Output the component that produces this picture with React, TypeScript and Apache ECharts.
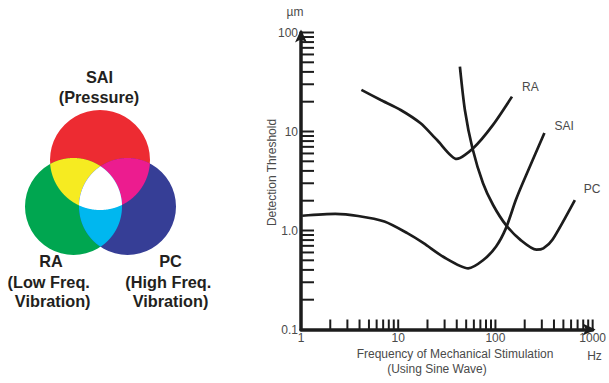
import React, { useEffect, useRef } from "react";
import * as echarts from "echarts";

// Axis tick values (log scale)
const freqMinorTicks = [2, 3, 4, 5, 6, 7, 8, 9, 10, 20, 30, 40, 50, 60, 70, 80, 90, 100, 200, 300, 400, 500, 600, 700, 800, 900, 1000];
const thresholdMinorTicks = [0.2, 0.3, 0.4, 0.5, 0.6, 0.7, 0.8, 0.9, 1, 2, 3, 4, 5, 6, 7, 8, 9, 10, 20, 30, 40, 50, 60, 70, 80, 90, 100];
const yTickValues = [0.1, 1, 10, 100];
const yTickLabels = ["0.1", "1.0", "10", "100"];
const xTickValues = [1, 10, 100, 1000];
const xTickLabels = ["1", "10", "100", "1000"];

// Curves: frequency (Hz) and detection threshold (µm)
const raFreq = [4.18, 6.62, 10.6, 17.0, 25.1, 39.9, 59, 94, 148];
const raThreshold = [26.3, 20.8, 16.5, 12.1, 8.2, 5.28, 6.77, 11.6, 22.5];
const saiFreq = [1.03, 2.25, 3.87, 7.21, 12.4, 18.4, 29.3, 52.5, 74.5, 101.6, 128, 162, 191, 319];
const saiThreshold = [1.41, 1.47, 1.4, 1.23, 0.94, 0.74, 0.54, 0.415, 0.5, 0.69, 1.05, 2.03, 3.02, 9.66];
const pcFreq = [43.1, 48.5, 58, 74.5, 94.6, 128, 182, 264, 311, 384, 656];
const pcThreshold = [45.1, 16.5, 6.77, 3.0, 1.81, 1.14, 0.8, 0.64, 0.66, 0.8, 2.03];

const seriesNames = ["RA", "SAI", "PC"];

const INK = "#1c1c1c";
const TEXT = "#4a4a4a";
const FONT = "Liberation Sans, Arial, sans-serif";

type Circle = { cx: number; cy: number; r: number };

function regionPoints(circles: Circle[]): number[][] {
  const pts: number[][] = [];
  const N = 1440;
  for (const c of circles) {
    for (let i = 0; i < N; i++) {
      const a = (2 * Math.PI * i) / N;
      const x = c.cx + c.r * Math.cos(a);
      const y = c.cy + c.r * Math.sin(a);
      const inside = circles.every(
        (o) => o === c || (x - o.cx) ** 2 + (y - o.cy) ** 2 <= o.r * o.r + 1e-6
      );
      if (inside) pts.push([x, y]);
    }
  }
  const mx = pts.reduce((s, p) => s + p[0], 0) / pts.length;
  const my = pts.reduce((s, p) => s + p[1], 0) / pts.length;
  pts.sort((p, q) => Math.atan2(p[1] - my, p[0] - mx) - Math.atan2(q[1] - my, q[0] - mx));
  return pts;
}

export default function App() {
  const ref = useRef<HTMLDivElement>(null);
  useEffect(() => {
    if (!ref.current) return;
    const chart = echarts.init(ref.current, null, { renderer: "svg" });

    const red: Circle = { cx: 100, cy: 160, r: 50 };
    const green: Circle = { cx: 73.5, cy: 206.5, r: 48.5 };
    const blue: Circle = { cx: 127.5, cy: 206.5, r: 48.5 };

    const vennText = (text: string, x: number, y: number) => ({
      type: "text",
      x,
      y,
      style: {
        text,
        fill: "#231f20",
        font: `bold 16.3px ${FONT}`,
        textAlign: "center",
        textVerticalAlign: "middle",
      },
    });
    const plainText = (text: string, x: number, y: number, extra: any = {}) => ({
      type: "text",
      x,
      y,
      ...extra,
      style: {
        text,
        fill: TEXT,
        font: `12px ${FONT}`,
        textAlign: "center",
        textVerticalAlign: "middle",
      },
    });

    const lineSeries = (name: string, xs: number[], ys: number[], off: number[]) => ({
      type: "line",
      name,
      data: xs.map((f, i) => [f, ys[i]]),
      symbol: "none",
      smooth: 0.25,
      lineStyle: { color: INK, width: 2.7 },
      endLabel: {
        show: true,
        formatter: name,
        color: TEXT,
        fontSize: 12,
        fontFamily: FONT,
        offset: off,
      },
      z: 5,
    });

    const fmtLabel = (vals: number[], labels: string[]) => (v: number) => {
      const i = vals.findIndex((t) => Math.abs(Math.log10(t) - Math.log10(v)) < 1e-6);
      return i >= 0 ? labels[i] : "";
    };

    chart.setOption({
      animation: false,
      grid: { left: 301, right: 11, top: 32.5, bottom: 53.5 },
      xAxis: {
        type: "log",
        logBase: 10,
        min: 1,
        max: 1000,
        axisLine: {
          show: true,
          onZero: false,
          lineStyle: { color: INK, width: 3.5 },
          symbol: ["none", "arrow"],
          symbolSize: [9, 13],
          symbolOffset: [0, 3],
        },
        axisTick: { show: false },
        splitLine: { show: false },
        axisLabel: {
          color: TEXT,
          fontSize: 12,
          fontFamily: FONT,
          margin: 2,
          formatter: fmtLabel(xTickValues, xTickLabels),
        },
      },
      yAxis: {
        type: "log",
        logBase: 10,
        min: 0.1,
        max: 100,
        axisLine: {
          show: true,
          onZero: false,
          lineStyle: { color: INK, width: 3.5 },
          symbol: ["none", "arrow"],
          symbolSize: [9, 13],
          symbolOffset: [0, 3],
        },
        axisTick: { show: false },
        splitLine: { show: false },
        axisLabel: {
          color: TEXT,
          fontSize: 12,
          fontFamily: FONT,
          margin: 3,
          formatter: fmtLabel(yTickValues, yTickLabels),
        },
      },
      series: [
        {
          type: "custom",
          silent: true,
          clip: false,
          data: freqMinorTicks.map((v) => [v, 0.1]),
          renderItem: (params: any, api: any) => {
            const p = api.coord([api.value(0), api.value(1)]);
            return {
              type: "line",
              shape: { x1: p[0], y1: p[1], x2: p[0], y2: p[1] - 10 },
              style: { stroke: INK, lineWidth: 2 },
            };
          },
          z: 3,
        },
        {
          type: "custom",
          silent: true,
          clip: false,
          data: thresholdMinorTicks.map((v) => [1, v]),
          renderItem: (params: any, api: any) => {
            const p = api.coord([api.value(0), api.value(1)]);
            return {
              type: "line",
              shape: { x1: p[0], y1: p[1], x2: p[0] + 13, y2: p[1] },
              style: { stroke: INK, lineWidth: 2 },
            };
          },
          z: 3,
        },
        lineSeries(seriesNames[0], raFreq, raThreshold, [2, -10]),
        lineSeries(seriesNames[1], saiFreq, saiThreshold, [2, -7]),
        lineSeries(seriesNames[2], pcFreq, pcThreshold, [1, -11]),
      ],
      graphic: [
        { type: "circle", shape: { cx: red.cx, cy: red.cy, r: red.r }, style: { fill: "#ed2b32" } },
        { type: "circle", shape: { cx: green.cx, cy: green.cy, r: green.r }, style: { fill: "#00a650" } },
        { type: "circle", shape: { cx: blue.cx, cy: blue.cy, r: blue.r }, style: { fill: "#363e96" } },
        { type: "polygon", shape: { points: regionPoints([red, green]) }, style: { fill: "#f6eb21" } },
        { type: "polygon", shape: { points: regionPoints([red, blue]) }, style: { fill: "#ec1c8f" } },
        { type: "polygon", shape: { points: regionPoints([green, blue]) }, style: { fill: "#00b7ef" } },
        { type: "polygon", shape: { points: regionPoints([red, green, blue]) }, style: { fill: "#ffffff" } },
        vennText("SAI", 99.5, 77),
        vennText("(Pressure)", 99, 97),
        vennText("RA", 51, 261),
        vennText("(Low Freq.", 48.7, 282),
        vennText("Vibration)", 52.7, 300.5),
        vennText("PC", 170.5, 261),
        vennText("(High Freq.", 168.3, 282),
        vennText("Vibration)", 170.5, 300.5),
        plainText("µm", 295, 12),
        plainText("Hz", 594.5, 356),
        plainText("Frequency of Mechanical Stimulation", 455, 354),
        plainText("(Using Sine Wave)", 437, 369),
        plainText("Detection Threshold", 272, 172.5, { rotation: Math.PI / 2 }),
      ],
    });
    return () => chart.dispose();
  }, []);
  return (
    <div
      ref={ref}
      style={{ position: "fixed", left: 0, top: 0, width: 609, height: 383, background: "#fff" }}
    />
  );
}
